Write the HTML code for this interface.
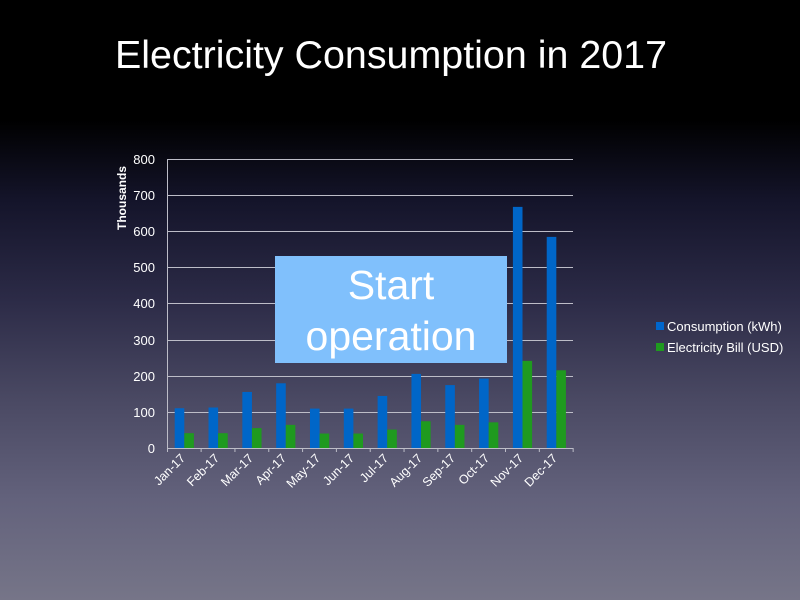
<!DOCTYPE html>
<html><head><meta charset="utf-8"><style>
html,body{margin:0;padding:0;width:800px;height:600px;overflow:hidden}
body{background:linear-gradient(to bottom,#000 0px,#000 120px,#14142a 200px,#2c2b47 300px,#4a4963 400px,#63627c 500px,#767588 600px);font-family:"Liberation Sans",sans-serif}
</style></head><body>
<svg width="800" height="600" xmlns="http://www.w3.org/2000/svg" style="position:absolute;left:0;top:0">
<text x="391" y="68" fill="#fff" font-size="39" text-anchor="middle" textLength="552" lengthAdjust="spacingAndGlyphs" font-family="Liberation Sans">Electricity Consumption in 2017</text>
<g stroke="#bdbdc8" stroke-width="1">
<line x1="167" y1="159.5" x2="573" y2="159.5"/>
<line x1="167" y1="195.5" x2="573" y2="195.5"/>
<line x1="167" y1="231.5" x2="573" y2="231.5"/>
<line x1="167" y1="267.5" x2="573" y2="267.5"/>
<line x1="167" y1="303.5" x2="573" y2="303.5"/>
<line x1="167" y1="340.5" x2="573" y2="340.5"/>
<line x1="167" y1="376.5" x2="573" y2="376.5"/>
<line x1="167" y1="412.5" x2="573" y2="412.5"/>
<line x1="167" y1="448.5" x2="573" y2="448.5"/>
<line x1="167.5" y1="159" x2="167.5" y2="448"/>
</g>
<g id="bars"></g>
<g fill="#fff" font-size="13" text-anchor="end">
<text x="155" y="164">800</text><text x="155" y="200">700</text><text x="155" y="236">600</text>
<text x="155" y="272">500</text><text x="155" y="308">400</text><text x="155" y="345">300</text>
<text x="155" y="381">200</text><text x="155" y="417">100</text><text x="155" y="453">0</text>
</g>
<text transform="translate(126,198) rotate(-90)" fill="#fff" font-size="12" font-weight="bold" text-anchor="middle">Thousands</text>
<g fill="#fff" font-size="12.5" text-anchor="end" id="xl">
<text transform="translate(186,459) rotate(-45)">Jan-17</text>
<text transform="translate(220,459) rotate(-45)">Feb-17</text>
<text transform="translate(254,459) rotate(-45)">Mar-17</text>
<text transform="translate(287,459) rotate(-45)">Apr-17</text>
<text transform="translate(321,459) rotate(-45)">May-17</text>
<text transform="translate(355,459) rotate(-45)">Jun-17</text>
<text transform="translate(389,459) rotate(-45)">Jul-17</text>
<text transform="translate(423,459) rotate(-45)">Aug-17</text>
<text transform="translate(456,459) rotate(-45)">Sep-17</text>
<text transform="translate(490,459) rotate(-45)">Oct-17</text>
<text transform="translate(524,459) rotate(-45)">Nov-17</text>
<text transform="translate(558,459) rotate(-45)">Dec-17</text>
</g>
<rect x="275" y="256" width="232" height="107" fill="#80c0fc"/>
<text x="391" y="299" fill="#fff" font-size="41" text-anchor="middle">Start</text>
<text x="391" y="350" fill="#fff" font-size="41" text-anchor="middle">operation</text>
<rect x="656" y="322" width="8" height="8" fill="#0066cc"/>
<text x="667" y="331" fill="#fff" font-size="13">Consumption (kWh)</text>
<rect x="656" y="343" width="8" height="8" fill="#1f9a1f"/>
<text x="667" y="352" fill="#fff" font-size="13">Electricity Bill (USD)</text>
</svg>
<script>
var b=[110,112,155,179,109,109,144,205,174,192,667,584],g=[41,41,55,64,40,40,51,74,64,71,241,215];
var s='',k=0.3615;
for(var i=0;i<12;i++){var x0=167.3+33.82*i;
s+='<rect x="'+(x0+7.4)+'" y="'+(448-b[i]*k)+'" width="9.6" height="'+(b[i]*k)+'" fill="#0066c8"/>';
s+='<rect x="'+(x0+17)+'" y="'+(448-g[i]*k)+'" width="9.6" height="'+(g[i]*k)+'" fill="#1f9a1f"/>';
s+='<line x1="'+(x0+33.82)+'" y1="448" x2="'+(x0+33.82)+'" y2="452" stroke="#bdbdc8"/>';}
s+='<line x1="167.5" y1="448" x2="167.5" y2="452" stroke="#bdbdc8"/>';
document.getElementById('bars').innerHTML=s;
</script>
</body></html>
